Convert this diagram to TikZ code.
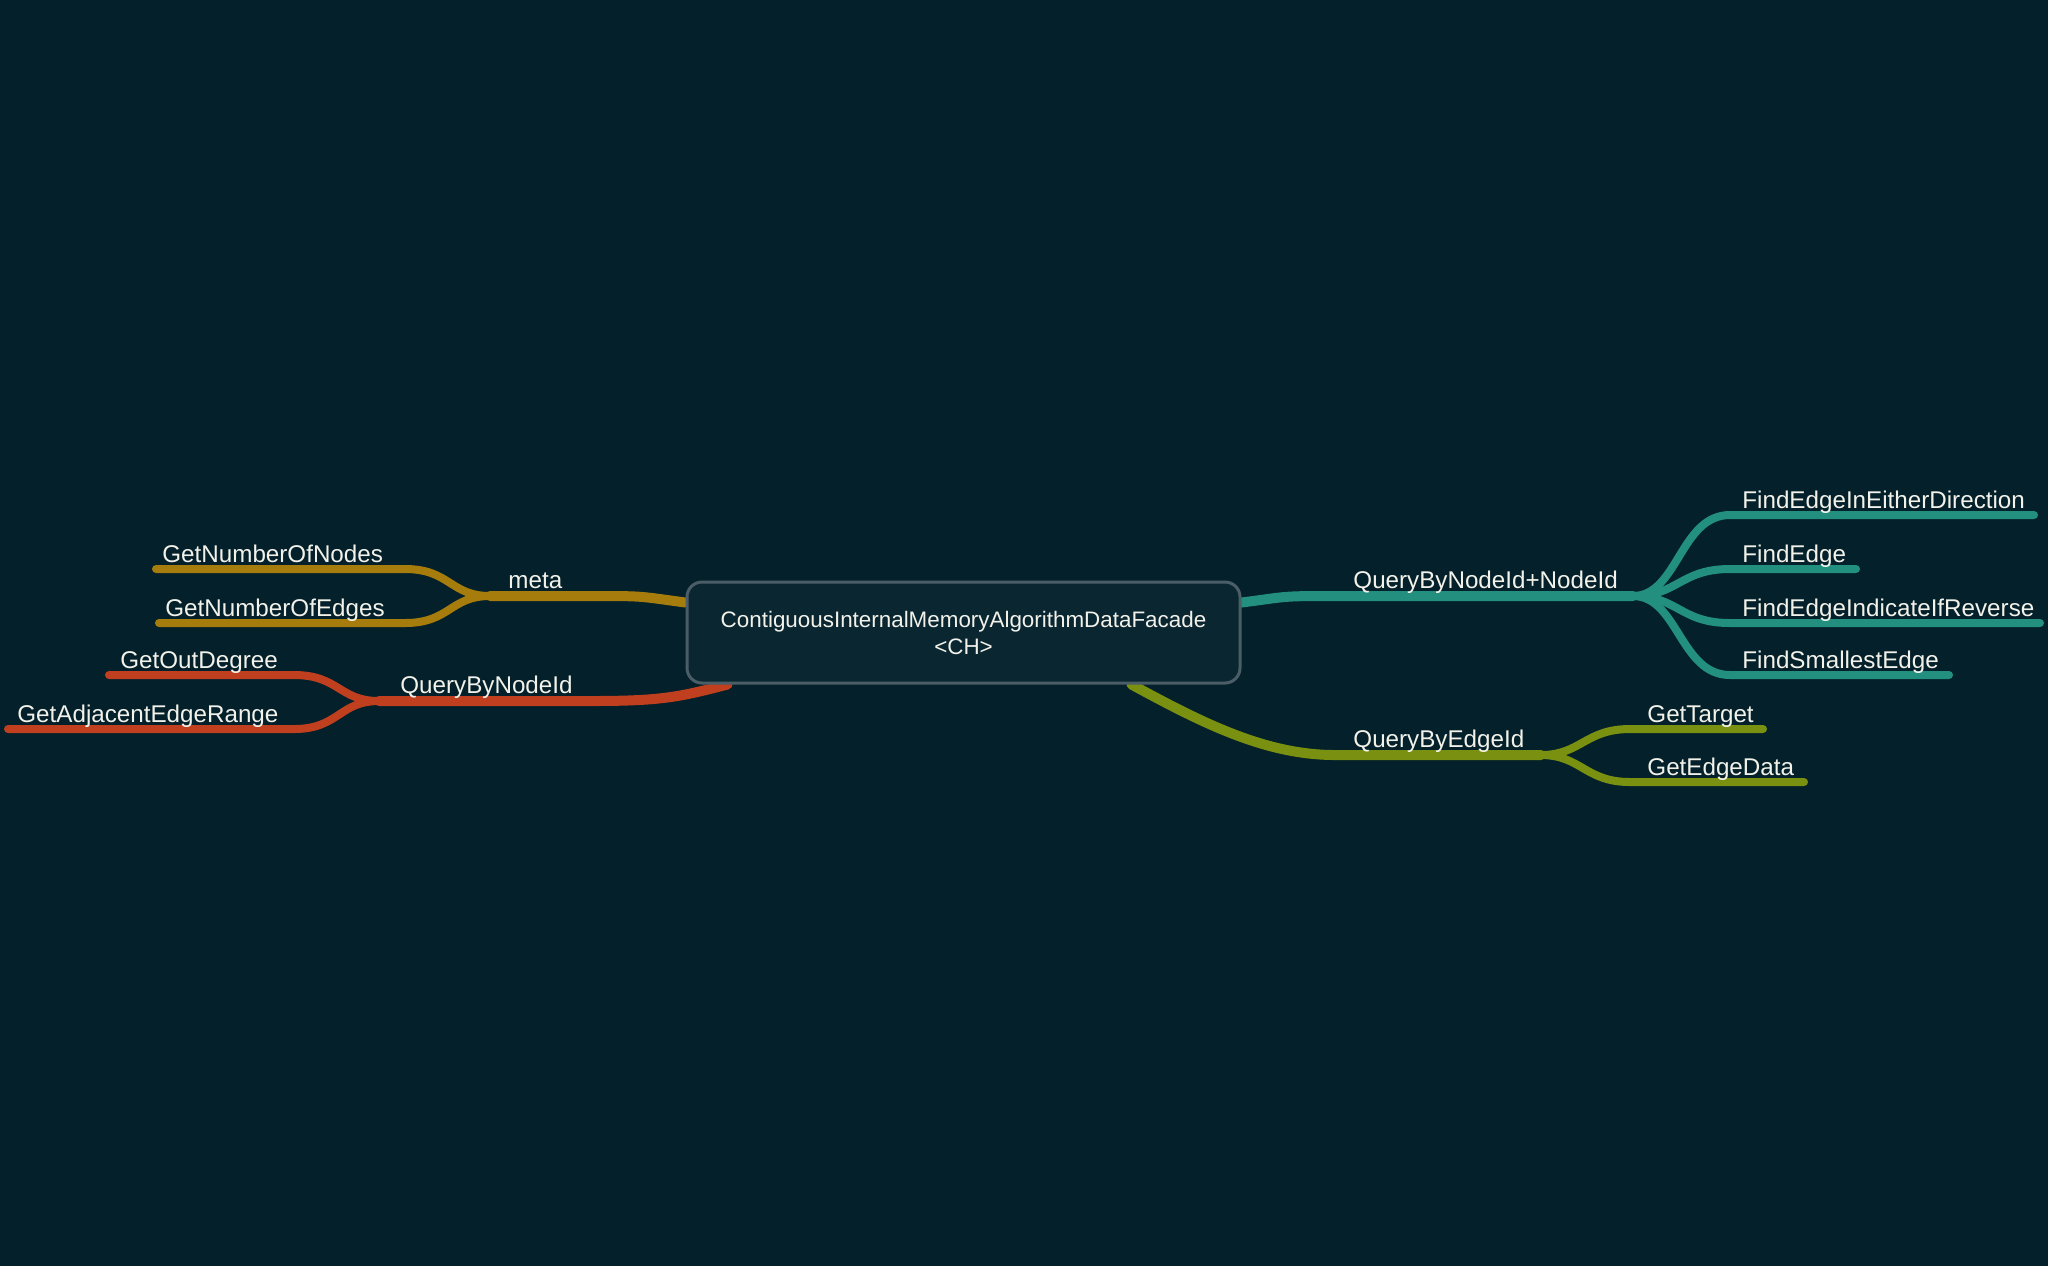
\documentclass[tikz,border=0pt]{standalone}
\usepackage{fontspec}
\setmainfont{Liberation Sans}
\definecolor{bgcol}{HTML}{04202A}
\definecolor{boxfill}{HTML}{0A2731}
\definecolor{boxline}{HTML}{4B5D67}
\definecolor{txtcol}{HTML}{F2F2EA}
\definecolor{metacol}{HTML}{A67D0C}
\definecolor{nodecol}{HTML}{C03F1E}
\definecolor{paircol}{HTML}{23907F}
\definecolor{edgecol}{HTML}{7A9011}
\pgfdeclarelayer{bglayer}
\pgfdeclarelayer{linelayer}
\pgfsetlayers{bglayer,linelayer,main}

\tikzset{every picture/.style={line width=0.75pt},
  rootbox/.style={draw=boxline, line width=1.5pt, fill=boxfill, rounded corners=7.5pt,
    minimum width=276.5pt, minimum height=50.5pt, align=center, text=txtcol,
    font=\fontsize{11.2}{13.5}\selectfont},
  lbl/.style={anchor=base west, inner sep=0pt, text=txtcol, font=\fontsize{12.1}{14}\selectfont},
  trunk/.style={line width=5pt, line cap=round},
  twig/.style={line width=4pt, line cap=round}}

\begin{document}
\begin{tikzpicture}[x=0.5pt,y=0.5pt,yscale=-1,xscale=1]
\begin{pgfonlayer}{bglayer}
\fill[bgcol] (0,0) rectangle (2048,1266);
\end{pgfonlayer}
\useasboundingbox (0,0) rectangle (2048,1266);

%Root box
\node[rootbox] (root) at (963.5,632.5) {ContiguousInternalMemoryAlgorithmDataFacade\\<CH>};

%Junctions
\coordinate (metaJ) at (490,596);
\coordinate (nodeJ) at (379,701);
\coordinate (pairJ) at (1633,596);
\coordinate (edgeJ) at (1541,755);
\coordinate (metaH) at (600,596);
\coordinate (nodeH) at (590,701);
\coordinate (pairH) at (1320,596);
\coordinate (edgeH) at (1335,755);

%Leaf line ends
\coordinate (numNodesR) at (405,569);
\coordinate (numNodesL) at (156,569);
\coordinate (numEdgesR) at (405,623);
\coordinate (numEdgesL) at (159,623);
\coordinate (outDegR) at (294,675);
\coordinate (outDegL) at (109,675);
\coordinate (adjRangeR) at (294,729);
\coordinate (adjRangeL) at (8,729);
\coordinate (eitherL) at (1730,515);
\coordinate (eitherR) at (2034,515);
\coordinate (findL) at (1730,569);
\coordinate (findR) at (1856,569);
\coordinate (reverseL) at (1730,623);
\coordinate (reverseR) at (2040,623);
\coordinate (smallestL) at (1730,675);
\coordinate (smallestR) at (1949,675);
\coordinate (targetL) at (1630,729);
\coordinate (targetR) at (1763,729);
\coordinate (dataL) at (1630,782);
\coordinate (dataR) at (1804,782);

\begin{pgfonlayer}{linelayer}
%Trunks
\draw[trunk, metacol] ([yshift=-15pt]root.west) .. controls +(-45,-6) and +(45,0) .. (metaH) -- (metaJ);
\draw[trunk, nodecol] ([xshift=21pt]root.south west) .. controls +(-50,13) and +(70,0) .. (nodeH) -- (nodeJ);
\draw[trunk, paircol] ([yshift=-15pt]root.east) .. controls +(40,-5) and +(-40,0) .. (pairH) -- (pairJ);
\draw[trunk, edgecol] ([xshift=-55pt]root.south east) .. controls +(70,38) and +(-70,0) .. (edgeH) -- (edgeJ);

%Twigs
\draw[twig, metacol] (metaJ) .. controls +(-40,0) and +(45,0) .. (numNodesR) -- (numNodesL);
\draw[twig, metacol] (metaJ) .. controls +(-40,0) and +(45,0) .. (numEdgesR) -- (numEdgesL);
\draw[twig, nodecol] (nodeJ) .. controls +(-40,0) and +(45,0) .. (outDegR) -- (outDegL);
\draw[twig, nodecol] (nodeJ) .. controls +(-40,0) and +(45,0) .. (adjRangeR) -- (adjRangeL);
\draw[twig, paircol] (pairJ) .. controls +(45,0) and +(-50,0) .. (eitherL) -- (eitherR);
\draw[twig, paircol] (pairJ) .. controls +(45,0) and +(-50,0) .. (findL) -- (findR);
\draw[twig, paircol] (pairJ) .. controls +(45,0) and +(-50,0) .. (reverseL) -- (reverseR);
\draw[twig, paircol] (pairJ) .. controls +(45,0) and +(-50,0) .. (smallestL) -- (smallestR);
\draw[twig, edgecol] (edgeJ) .. controls +(40,0) and +(-45,0) .. (targetL) -- (targetR);
\draw[twig, edgecol] (edgeJ) .. controls +(40,0) and +(-45,0) .. (dataL) -- (dataR);
\end{pgfonlayer}

% Text Node
\node[lbl] (meta) at (508,588) {meta};
% Text Node
\node[lbl] (byNode) at (400,693) {QueryByNodeId};
% Text Node
\node[lbl] (byPair) at (1353,588) {QueryByNodeId+NodeId};
% Text Node
\node[lbl] (byEdge) at (1353,747) {QueryByEdgeId};
% Text Node
\node[lbl] (numNodes) at (162,562) {GetNumberOfNodes};
% Text Node
\node[lbl] (numEdges) at (165,616) {GetNumberOfEdges};
% Text Node
\node[lbl] (outDeg) at (120,668) {GetOutDegree};
% Text Node
\node[lbl] (adjRange) at (17,722) {GetAdjacentEdgeRange};
% Text Node
\node[lbl] (either) at (1742,508) {FindEdgeInEitherDirection};
% Text Node
\node[lbl] (find) at (1742,562) {FindEdge};
% Text Node
\node[lbl] (reverse) at (1742,616) {FindEdgeIndicateIfReverse};
% Text Node
\node[lbl] (smallest) at (1742,668) {FindSmallestEdge};
% Text Node
\node[lbl] (target) at (1647,722) {GetTarget};
% Text Node
\node[lbl] (data) at (1647,775) {GetEdgeData};
\end{tikzpicture}
\end{document}
